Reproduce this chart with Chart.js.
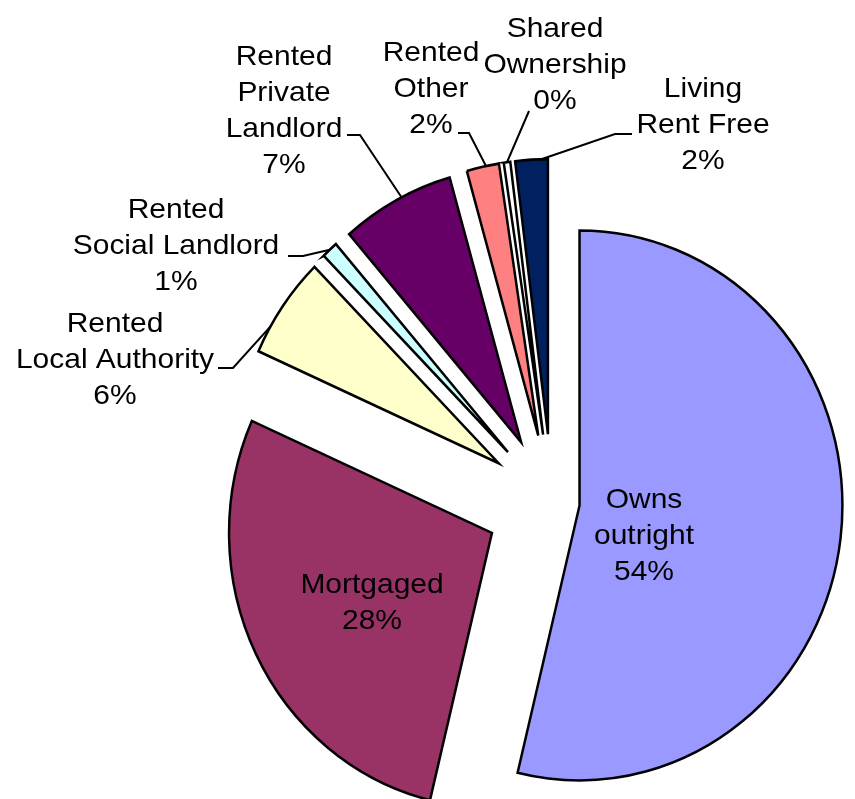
<!DOCTYPE html>
<html>
<head>
<meta charset="utf-8">
<title>Housing tenure</title>
<script src="https://cdn.jsdelivr.net/npm/chart.js@4.4.1/dist/chart.umd.min.js"></script>
<style>
  body { margin: 0; background: #fff; }
  .chart-container { position: relative; width: 855px; height: 799px; }
</style>
</head>
<body>
<div class="chart-container"><canvas id="myChart"></canvas></div>
<script>
// tenure categories (one entry per slice, split into label lines)
const categories = [
  ['Owns', 'outright'],
  ['Mortgaged'],
  ['Rented', 'Local Authority'],
  ['Rented', 'Social Landlord'],
  ['Rented', 'Private', 'Landlord'],
  ['Rented', 'Other'],
  ['Shared', 'Ownership'],
  ['Living', 'Rent Free'],
];

// share of households, %
const shares = [54, 28, 6, 1, 7, 2, 0.4, 2];

const colors = ['#9999FF', '#993366', '#FFFFCC', '#CCFFFF', '#660066', '#FF8080', '#FFFFFF', '#002060'];

// how far each slice is pulled away from the centre (px)
const explode = [29, 70, 68, 68, 68, 68, 68, 68];

// the pie is drawn a little narrower than it is tall
const squashX = 0.956;

// label text: centre x, baseline of the first line
const labelPos = [
  [644, 508],
  [372, 593],
  [115, 332],
  [176, 218],
  [284, 65],
  [431, 61],
  [555, 37],
  [703, 97],
];
const lineHeight = 36;

// leader lines: fixed points near the text, then a point on the slice edge
// ("at" = how far across the slice the line lands)
const leaders = [
  null,
  null,
  { pts: [[218, 368], [233, 368]], at: 0.27 },
  { pts: [[288, 256], [303, 256]], at: 0.5 },
  { pts: [[347, 135], [360, 135]], at: 0.55 },
  { pts: [[458, 133], [469, 133]], at: 0.6 },
  { pts: [[529, 111]], at: 0.5 },
  { pts: [[632, 134], [615, 134]], at: 0.8 },
];

const pieCenterX = chart => (chart.chartArea.left + chart.chartArea.right) / 2;

const explodePlugin = {
  id: 'explode',
  afterDatasetsUpdate(chart) {
    chart.getDatasetMeta(0).data.forEach((arc, i) => {
      const mid = (arc.startAngle + arc.endAngle) / 2;
      arc.x += Math.cos(mid) * explode[i];
      arc.y += Math.sin(mid) * explode[i];
    });
  },
  beforeDatasetsDraw(chart) {
    const ctx = chart.ctx;
    const cx = pieCenterX(chart);
    ctx.save();
    ctx.translate(cx, 0);
    ctx.scale(squashX, 1);
    ctx.translate(-cx, 0);
  },
  afterDatasetsDraw(chart) {
    chart.ctx.restore();
  }
};

const labelPlugin = {
  id: 'sliceLabels',
  afterDraw(chart) {
    const ctx = chart.ctx;
    const meta = chart.getDatasetMeta(0);
    const cx = pieCenterX(chart);
    const total = shares.reduce((a, b) => a + b, 0);

    ctx.save();
    ctx.font = '28px "Liberation Sans", Arial, sans-serif';
    ctx.fillStyle = '#000';
    ctx.strokeStyle = '#000';
    ctx.lineWidth = 2;
    ctx.textAlign = 'center';
    ctx.textBaseline = 'alphabetic';

    categories.forEach((lines, i) => {
      const text = lines.concat(Math.round(shares[i] / total * 100) + '%');
      const [x, y] = labelPos[i];
      text.forEach((t, k) => {
        ctx.save();
        ctx.translate(x, y + k * lineHeight);
        ctx.scale(1.07, 1);
        ctx.fillText(t, 0, 0);
        ctx.restore();
      });

      const lead = leaders[i];
      if (lead) {
        const arc = meta.data[i];
        const a = arc.startAngle + (arc.endAngle - arc.startAngle) * lead.at;
        const ex = cx + (arc.x + Math.cos(a) * arc.outerRadius - cx) * squashX;
        const ey = arc.y + Math.sin(a) * arc.outerRadius;
        ctx.beginPath();
        ctx.moveTo(lead.pts[0][0], lead.pts[0][1]);
        lead.pts.slice(1).forEach(p => ctx.lineTo(p[0], p[1]));
        ctx.lineTo(ex, ey);
        ctx.stroke();
      }
    });
    ctx.restore();
  }
};

new Chart(document.getElementById('myChart'), {
  type: 'pie',
  data: {
    labels: categories,
    datasets: [{
      data: shares,
      backgroundColor: colors,
      borderColor: '#000',
      borderWidth: 2.6,
      borderJoinStyle: 'miter',
      radius: 275,
      clip: false
    }]
  },
  options: {
    responsive: true,
    maintainAspectRatio: false,
    animation: false,
    events: [],
    // puts the centre of the chart area at (552, 502)
    layout: { padding: { left: 249, right: 0, top: 205, bottom: 0 } },
    plugins: {
      legend: { display: false },
      tooltip: { enabled: false }
    }
  },
  plugins: [explodePlugin, labelPlugin]
});
</script>
</body>
</html>
